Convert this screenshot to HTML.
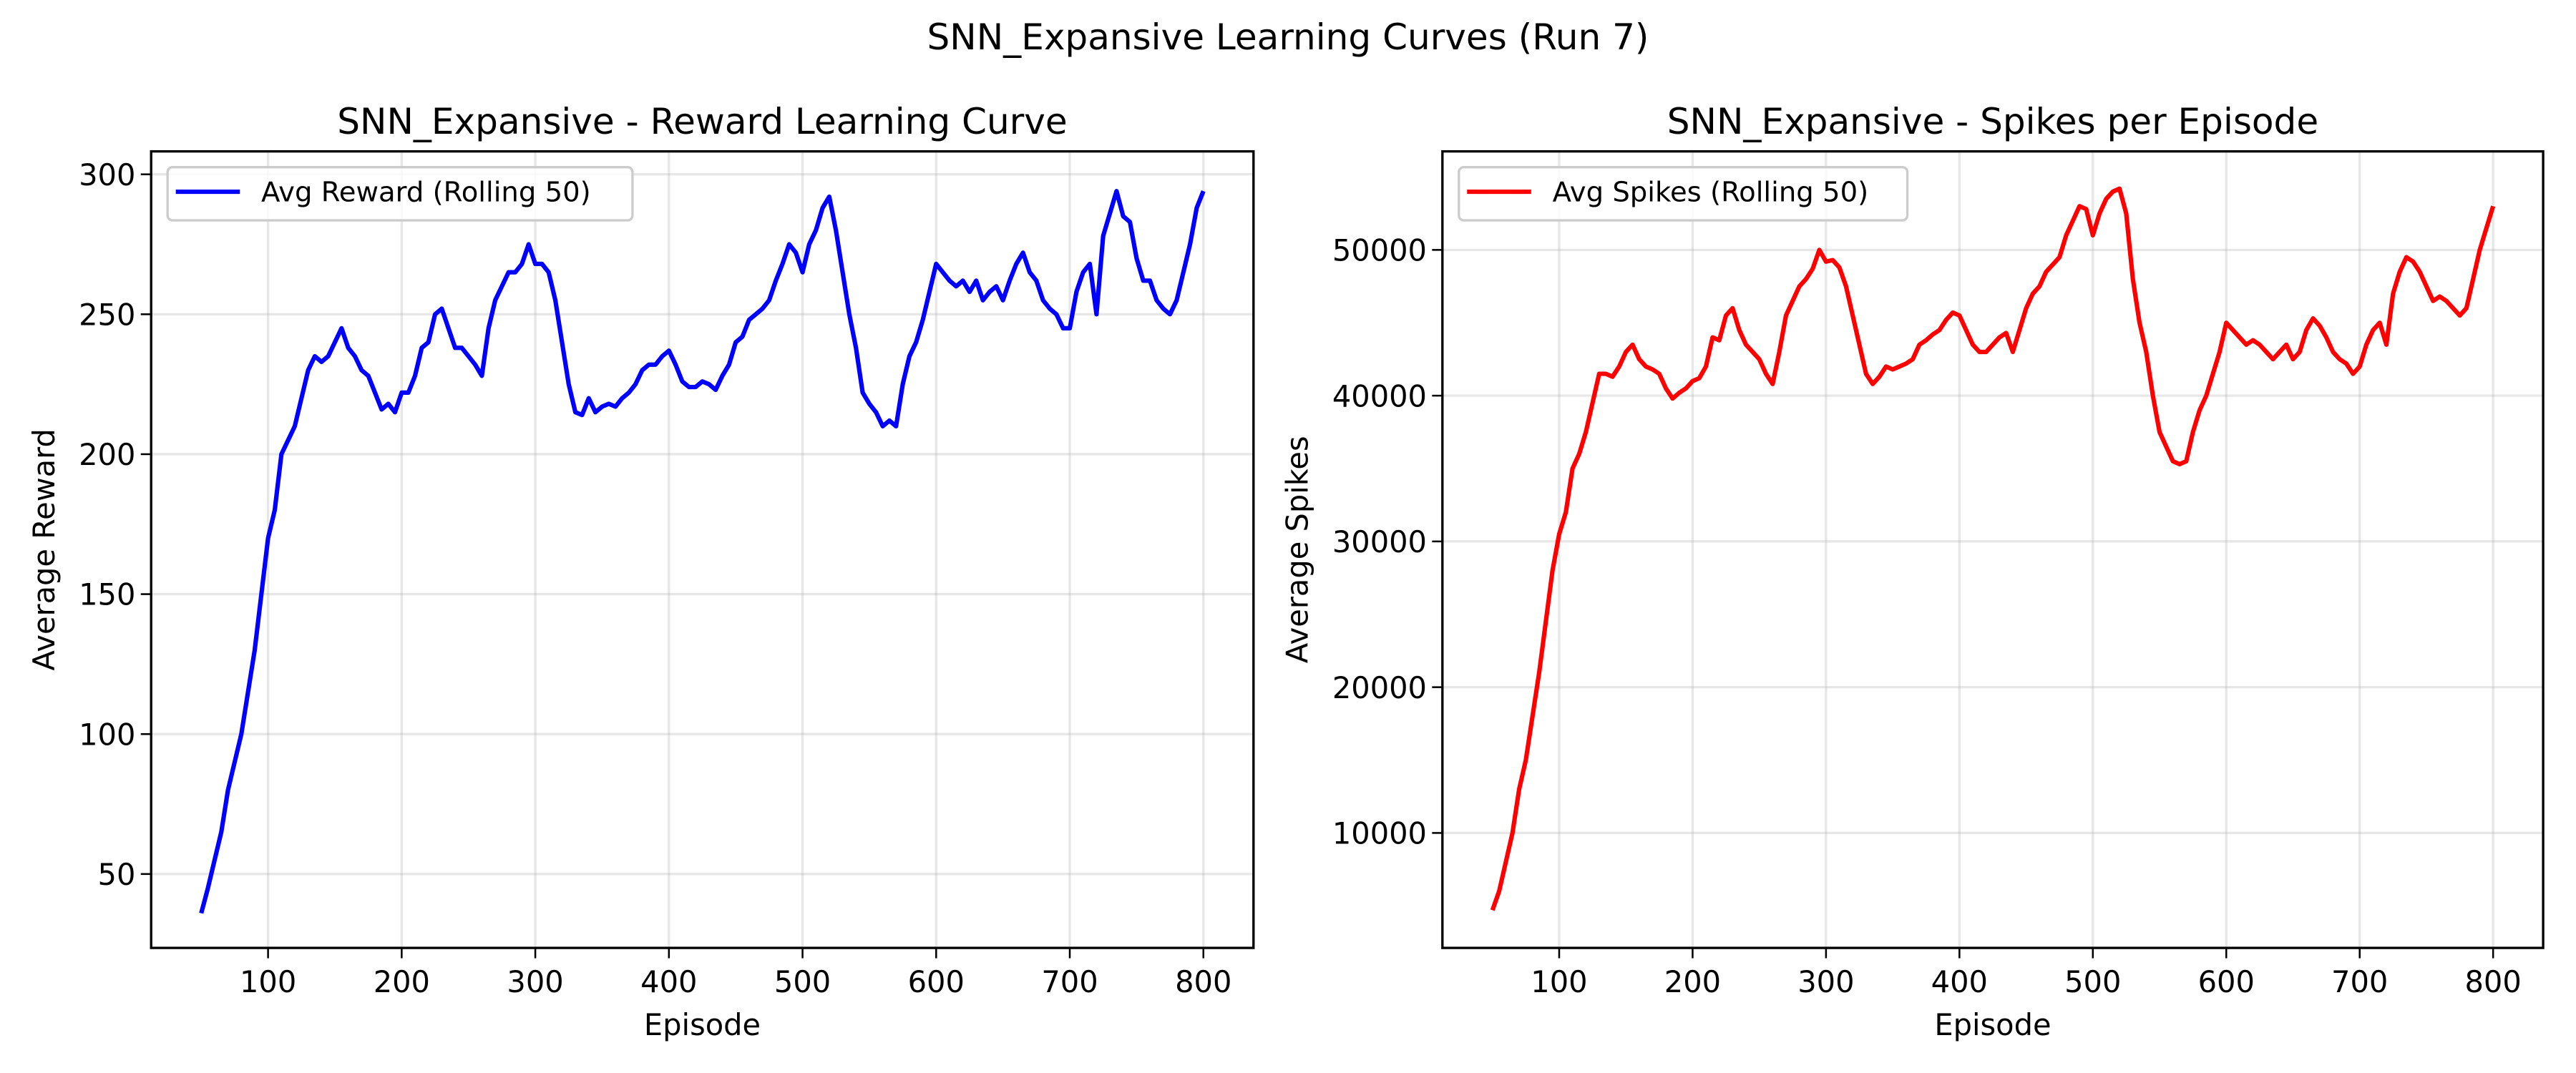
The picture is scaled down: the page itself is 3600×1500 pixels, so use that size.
<!DOCTYPE html>
<html><head><meta charset="utf-8"><style>
html,body{margin:0;padding:0;background:#fff;}
svg{display:block;font-family:"DejaVu Sans","Liberation Sans",sans-serif;}
</style></head><body>
<svg id="fig" width="3600" height="1500" viewBox="0 0 1568 653" xmlns="http://www.w3.org/2000/svg">
<rect width="1568" height="653" fill="#fff"/>
<text x="784" y="29.8" text-anchor="middle" font-size="21.8">SNN_Expansive Learning Curves (Run 7)</text>
</svg>
<script>
const episodes = [];
for (let e = 50; e <= 800; e += 5) episodes.push(e);
const rewardValues = [36,45,55,65,80,90,100,115,130,150,170,180,200,205,210,220,230,235,233,235,240,245,238,235,230,228,222,216,218,215,222,222,228,238,240,250,252,245,238,238,235,232,228,245,255,260,265,265,268,275,268,268,265,255,240,225,215,214,220,215,217,218,217,220,222,225,230,232,232,235,237,232,226,224,224,226,225,223,228,232,240,242,248,250,252,255,262,268,275,272,265,275,280,288,292,280,265,250,238,222,218,215,210,212,210,225,235,240,248,258,268,265,262,260,262,258,262,255,258,260,255,262,268,272,265,262,255,252,250,245,245,258,265,268,250,278,286,294,285,283,270,262,262,255,252,250,255,265,275,288,294];
const spikeValues = [4700,6000,8000,10000,13000,15000,18000,21000,24500,28000,30500,32000,35000,36000,37500,39500,41500,41500,41300,42000,43000,43500,42500,42000,41800,41500,40500,39800,40200,40500,41000,41200,42000,44000,43800,45500,46000,44500,43500,43000,42500,41500,40800,43000,45500,46500,47500,48000,48700,50000,49200,49300,48800,47500,45500,43500,41500,40800,41300,42000,41800,42000,42200,42500,43500,43800,44200,44500,45200,45700,45500,44500,43500,43000,43000,43500,44000,44300,43000,44500,46000,47000,47500,48500,49000,49500,51000,52000,53000,52800,51000,52500,53500,54000,54200,52500,48000,45000,43000,40000,37500,36500,35500,35300,35500,37500,39000,40000,41500,43000,45000,44500,44000,43500,43800,43500,43000,42500,43000,43500,42500,43000,44500,45300,44800,44000,43000,42500,42200,41500,42000,43500,44500,45000,43500,47000,48500,49500,49200,48500,47500,46500,46800,46500,46000,45500,46000,48000,50000,51500,53000];
const xTicks = [100,200,300,400,500,600,700,800];
const rewardTicks = [50,100,150,200,250,300];
const spikeTicks = [10000,20000,30000,40000,50000];

const NS = "http://www.w3.org/2000/svg";
const fig = document.getElementById('fig');
function mk(tag, attrs, parent, text) {
  const el = document.createElementNS(NS, tag);
  for (const k in attrs) el.setAttribute(k, attrs[k]);
  if (text !== undefined) el.textContent = text;
  parent.appendChild(el);
  return el;
}

function drawPanel(cfg) {
  const g = mk('g', {}, fig);
  
  
  const L = cfg.x0, R = cfg.x1, T = 92, B = 577;
  const xs = v => L + (v - 12.5) / (837.5 - 12.5) * (R - L);
  const ys = v => B - (v - cfg.ymin) / (cfg.ymax - cfg.ymin) * (B - T);
  xTicks.forEach(t => {
    const l = mk('line', {x1: xs(t), x2: xs(t), y1: T, y2: B, stroke: '#b0b0b0', 'stroke-opacity': 0.3, 'stroke-width': 1.45}, g);
    
    
    mk('line', {x1: xs(t), x2: xs(t), y1: B, y2: B + 6.3, stroke: '#000', 'stroke-width': 1.1}, g);
    const tx = mk('text', {x: xs(t), y: 604, 'text-anchor': 'middle', 'font-size': 18.1}, g, String(t));
    
    
  });
  cfg.yTicks.forEach(t => {
    const l = mk('line', {x1: L, x2: R, y1: ys(t), y2: ys(t), stroke: '#b0b0b0', 'stroke-opacity': 0.3, 'stroke-width': 1.45}, g);
    
    
    mk('line', {x1: L - 6.3, x2: L, y1: ys(t), y2: ys(t), stroke: '#000', 'stroke-width': 1.1}, g);
    const tx = mk('text', {x: L - 9.5, y: ys(t) + 6.6, 'text-anchor': 'end', 'font-size': 18.1}, g, String(t));
    
    
  });
  const d = episodes.map((e, i) => (i ? 'L' : 'M') + xs(e).toFixed(2) + ',' + ys(cfg.values[i]).toFixed(2)).join('');
  const p = mk('path', {d: d, fill: 'none', stroke: cfg.color, 'stroke-width': 2.7, 'stroke-linejoin': 'round'}, g);
  
  
  const fr = mk('rect', {x: L, y: T, width: R - L, height: B - T, fill: 'none', stroke: '#000', 'stroke-width': 1.45}, g);
  
  
  const ti = mk('text', {x: (L + R) / 2, y: 81.3, 'text-anchor': 'middle', 'font-size': 21.8}, g, cfg.title);
  
  
  const xl = mk('text', {x: (L + R) / 2, y: 630, 'text-anchor': 'middle', 'font-size': 18.1}, g, 'Episode');
  
  
  const yl = mk('text', {x: 0, y: 0, 'text-anchor': 'middle', 'font-size': 18.1, transform: 'translate(' + cfg.ylabX + ',' + ((T + B) / 2) + ') rotate(-90)'}, g, cfg.ylabel);
  
  
  const lg = mk('g', {}, g);
  
  
  mk('rect', {x: L + 10, y: 101.6, width: cfg.legW, height: 32.4, rx: 3, fill: '#fff', 'fill-opacity': 0.8, stroke: '#ccc', 'stroke-width': 1.45}, lg);
  mk('line', {x1: L + 15, x2: L + 54, y1: 116.6, y2: 116.6, stroke: cfg.color, 'stroke-width': 2.7}, lg);
  const lt = mk('text', {x: L + 67, y: 122.5, 'font-size': 16.8}, lg, cfg.legend);
  
  
}

drawPanel({name: 'reward-panel', x0: 92, x1: 763, ymin: 23.6, ymax: 308.2, yTicks: rewardTicks, values: rewardValues, color: '#0000ff', seriesName: 'avg-reward-line', title: 'SNN_Expansive - Reward Learning Curve', ylabel: 'Average Reward', ylabX: 33, legend: 'Avg Reward (Rolling 50)', legW: 283});
drawPanel({name: 'spikes-panel', x0: 878, x1: 1548, ymin: 2113, ymax: 56760, yTicks: spikeTicks, values: spikeValues, color: '#ff0000', seriesName: 'avg-spikes-line', title: 'SNN_Expansive - Spikes per Episode', ylabel: 'Average Spikes', ylabX: 796, legend: 'Avg Spikes (Rolling 50)', legW: 273});
</script>
</body></html>
